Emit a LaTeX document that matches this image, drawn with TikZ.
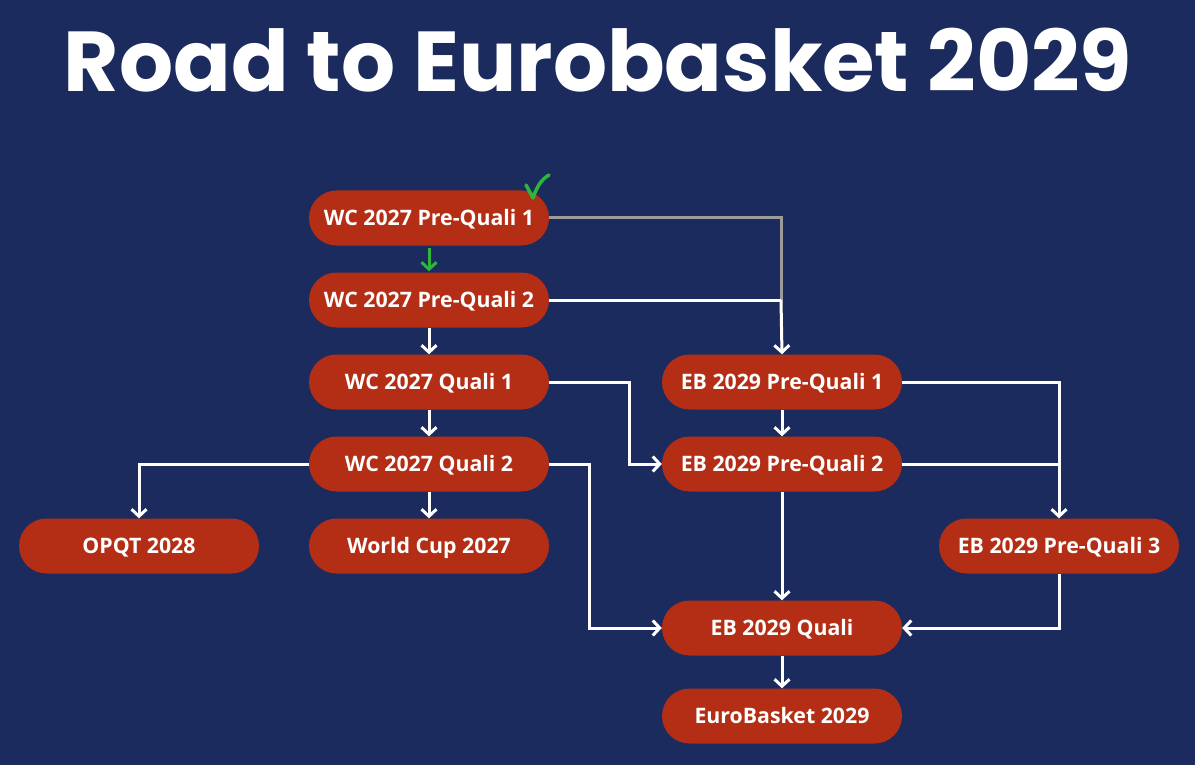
\documentclass[tikz,border=0pt]{standalone}
\usepackage{fontspec}
\setmainfont{Open Sans}
\newfontfamily\titlefont{Poppins}
\usetikzlibrary{arrows.meta}
\definecolor{bgblue}{HTML}{1B2B5D}
\definecolor{pillred}{HTML}{B32E15}
\definecolor{okgreen}{HTML}{2DB63B}
\definecolor{linegray}{HTML}{9C9C9C}
\tikzset{
  pill/.style={fill=pillred, rounded corners=27.5pt, minimum width=240pt, minimum height=55pt,
    text=white, font=\fontsize{21.3}{24}\selectfont\bfseries, inner sep=0pt,
    text height=15.5pt, text depth=0pt},
  tip/.style={-{Straight Barb[length=7pt,width=15pt,line width=3pt]}},
  conn/.style={draw=white, line width=3pt, tip},
  plain/.style={draw=white, line width=3pt},
}
\begin{document}
\begin{tikzpicture}[x=1pt,y=-1pt]
\fill[bgblue] (0,0) rectangle (1195,765);
\useasboundingbox (0,0) rectangle (1195,765);
\node[text=white, font=\titlefont\fontsize{85}{90}\selectfont\bfseries] (title) at (598,60) {Road to Eurobasket 2029};

\node[pill] (wcpq1) at (429,218) {WC 2027 Pre-Quali 1};
\node[pill] (wcpq2) at (429,300) {WC 2027 Pre-Quali 2};
\node[pill] (wcq1) at (429,382) {WC 2027 Quali 1};
\node[pill] (wcq2) at (429,464) {WC 2027 Quali 2};
\node[pill] (wc) at (429,546) {World Cup 2027};
\node[pill] (opqt) at (139,546) {OPQT 2028};
\node[pill] (ebpq1) at (782,382) {EB 2029 Pre-Quali 1};
\node[pill] (ebpq2) at (782,464) {EB 2029 Pre-Quali 2};
\node[pill] (ebpq3) at (1059,546) {EB 2029 Pre-Quali 3};
\node[pill] (ebq) at (782,628) {EB 2029 Quali};
\node[pill] (eb) at (782,716) {EuroBasket 2029};

\coordinate (j1) at (781,300);
\coordinate (j2) at (1059,464);

% gray line from completed stage
\draw[linegray, line width=3pt] (wcpq1.east) -- (781,218) -- (j1);
% green arrow
\draw[okgreen, line width=3pt, tip] ([yshift=-2pt]wcpq1.south) -- ([yshift=1pt]wcpq2.north);
% check mark
\draw[okgreen, line width=3.5pt, line cap=round, line join=round] (526,185) -- (533,198) .. controls (537,186) and (542,179) .. (549,175);

\draw[plain] (wcpq2.east) -- (j1);
\draw[conn] (j1) -- (ebpq1.north);
\draw[conn] (wcpq2) -- (wcq1);
\draw[conn] (wcq1) -- (wcq2);
\draw[conn] (wcq2) -- (wc);
\draw[conn] (wcq2.west) -| (opqt.north);
\draw[conn] (wcq1.east) -- (629,382) |- (ebpq2.west);
\draw[conn] (wcq2.east) -- (589,464) |- (ebq.west);
\draw[conn] (ebpq1) -- (ebpq2);
\draw[conn] (ebpq1.east) -| (ebpq3.north);
\draw[plain] (ebpq2.east) -- (j2);
\draw[conn] (ebpq2) -- (ebq);
\draw[conn] (ebpq3.south) |- (ebq.east);
\draw[conn] (ebq) -- (eb);
\end{tikzpicture}
\end{document}
